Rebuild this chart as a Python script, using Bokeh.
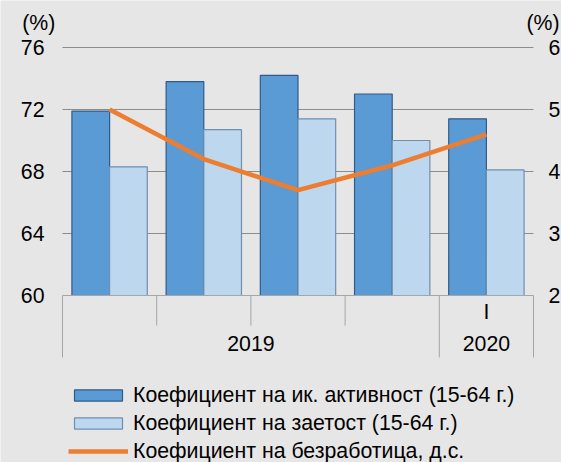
from bokeh.plotting import figure
from bokeh.models import Range1d, LinearAxis, FixedTicker, ColumnDataSource, Legend, LegendItem
from bokeh.core.properties import value
from bokeh.transform import dodge
from bokeh.embed import file_html
from bokeh.resources import INLINE

# ---------------- data ----------------
quarters = ["", "", "", "", "I"]
years = ["2019", "2020"]
year_spans = [(0, 4), (4, 5)]          # category index ranges per year
activity = [71.9, 73.8, 74.2, 73.0, 71.4]      # Коефициент на ик. активност (15-64 г.)
employment = [68.3, 70.7, 71.4, 70.0, 68.1]    # Коефициент на заетост (15-64 г.)
unemployment = [5.0, 4.2, 3.7, 4.1, 4.6]       # Коефициент на безработица, д.с.
left_ticks = [60, 64, 68, 72, 76]
right_ticks = [2, 3, 4, 5, 6]
legend_labels = ["Коефициент на ик. активност (15-64 г.)",
                 "Коефициент на заетост (15-64 г.)",
                 "Коефициент на безработица, д.с."]
unit_label = "(%)"

# ---------------- style / layout ----------------
FONT = "Liberation Sans"
FS = "21.3px"
BG = "#e6e6e6"
GRID = "#8c8c8c"
SEP = "#a6a6a6"
DARK = "#5b9bd5"
DARK_LINE = "#2f5b86"
LIGHT = "#bdd7ee"
LIGHT_LINE = "#6f8fb0"
ORANGE = "#ed7d31"

W, H = 561, 462
PLOT_L, PLOT_R = 62, 533          # pixel extent of the category area
TOP_PAD = 47                      # pixels above the top gridline
PX_PER_UNIT = 15.5

n = len(activity)
px_per_cat = (PLOT_R - PLOT_L) / n
x_start = -PLOT_L / px_per_cat
x_end = n + (W - PLOT_R) / px_per_cat
y_top = left_ticks[-1] + TOP_PAD / PX_PER_UNIT
y_bot = left_ticks[-1] - (H - TOP_PAD) / PX_PER_UNIT
base = left_ticks[0]
r_scale = (right_ticks[-1] - right_ticks[0]) / (left_ticks[-1] - left_ticks[0])
r_bot = right_ticks[0] + (y_bot - base) * r_scale
r_top = right_ticks[0] + (y_top - base) * r_scale

p = figure(width=W, height=H,
           x_range=Range1d(x_start, x_end), y_range=Range1d(y_bot, y_top),
           x_axis_location=None, output_backend="svg", toolbar_location=None,
           min_border=0, background_fill_color=BG, border_fill_color=BG,
           outline_line_color=None)
p.extra_y_ranges = {"right": Range1d(r_bot, r_top)}

ya = p.yaxis[0]
ya.ticker = FixedTicker(ticks=left_ticks)
ya.fixed_location = 0
ra = LinearAxis(y_range_name="right", ticker=FixedTicker(ticks=right_ticks), fixed_location=n)
p.add_layout(ra, "right")
for ax, so in [(ya, 18), (ra, 15)]:
    ax.axis_line_color = None
    ax.major_tick_line_color = None
    ax.minor_tick_line_color = None
    ax.major_tick_out = 0
    ax.major_tick_in = 0
    ax.major_label_standoff = so
    ax.major_label_text_font = FONT
    ax.major_label_text_font_size = FS
    ax.major_label_text_color = "#000000"

p.xgrid.grid_line_color = None
p.ygrid.grid_line_color = None

# horizontal gridlines across the category area only
grid_ticks = left_ticks[1:]
p.segment(x0=[0] * len(grid_ticks), y0=grid_ticks, x1=[n] * len(grid_ticks), y1=grid_ticks,
          line_color=GRID, line_width=1)

xs = [i + 0.5 for i in range(n)]
src = ColumnDataSource(dict(x=xs, act=activity, emp=employment, une=unemployment))

r_act = p.vbar(x=dodge("x", -0.2), top="act", bottom=base, width=0.4, source=src,
               fill_color=DARK, line_color=DARK_LINE, line_width=1.2)
r_emp = p.vbar(x=dodge("x", 0.2), top="emp", bottom=base, width=0.4, source=src,
               fill_color=LIGHT, line_color=LIGHT_LINE, line_width=1.2)

# category axis: baseline, separators, labels
p.segment(x0=[0], y0=[base], x1=[n], y1=[base], line_color=SEP, line_width=1.2)
year_bounds = sorted({b for span in year_spans for b in span})
inner_bounds = [b for b in range(n + 1) if b not in year_bounds]
p.segment(x0=inner_bounds, y0=[base] * len(inner_bounds), x1=inner_bounds,
          y1=[base - 1.94] * len(inner_bounds), line_color=SEP, line_width=1)
p.segment(x0=year_bounds, y0=[base] * len(year_bounds), x1=year_bounds,
          y1=[base - 4.0] * len(year_bounds), line_color=SEP, line_width=1)
p.text(x=xs, y=[base - 1.08] * n, text=quarters, text_align="center", text_baseline="middle",
       text_font=value(FONT), text_font_size=FS, text_color="#000000")
p.text(x=[(a + b) / 2 for a, b in year_spans], y=[base - 3.08] * len(years), text=years,
       text_align="center", text_baseline="middle",
       text_font=value(FONT), text_font_size=FS, text_color="#000000")

r_une = p.line(x="x", y="une", source=src, y_range_name="right",
               line_color=ORANGE, line_width=4.5)

# unit labels above both value axes
p.text(x=[-0.428, n - 0.075], y=[left_ticks[-1] + 1.56] * 2, text=[unit_label] * 2,
       text_align="left", text_baseline="middle",
       text_font=value(FONT), text_font_size=FS, text_color="#000000")

legend = Legend(items=[LegendItem(label=legend_labels[0], renderers=[r_act]),
                       LegendItem(label=legend_labels[1], renderers=[r_emp]),
                       LegendItem(label=legend_labels[2], renderers=[r_une])],
                location=(68, -3), orientation="vertical",
                background_fill_alpha=0, border_line_color=None,
                padding=0, margin=0, spacing=0,
                glyph_width=60, glyph_height=14, label_height=28, label_standoff=5,
                label_text_font=FONT, label_text_font_size=FS, label_text_color="#000000")
p.add_layout(legend)

open("out.html", "w").write(file_html(p, INLINE))
